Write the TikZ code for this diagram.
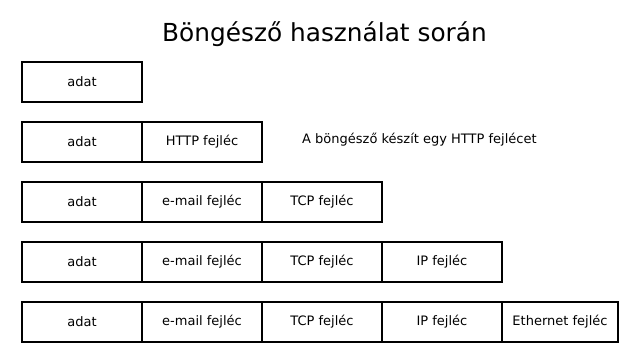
\documentclass[tikz,border=0pt]{standalone}
\usepackage{fontspec}
\setmainfont{DejaVu Sans}
\usetikzlibrary{positioning}
\tikzset{
  field/.style={draw, line width=1.5pt, minimum width=120pt, minimum height=40pt,
    inner sep=0pt, outer sep=0pt, font=\fontsize{13}{15}\selectfont},
}
\begin{document}
\begin{tikzpicture}[x=1pt,y=-1pt]
\useasboundingbox (0,0) rectangle (643,363);
\node (title) at (324.5,34) {\fontsize{24.8}{28}\selectfont Böngésző használat során};
% one row per layer, headers stacked to the right
\node[field,anchor=north west] (data1) at (22,62) {adat};
\node[field,anchor=north west] (data2) at (22,122) {adat};
\node[field,right=0pt of data2] (http2) {HTTP fejléc};
\node[anchor=west,inner sep=0pt,font=\fontsize{13}{15}\selectfont] (note) at (302,139.5) {A böngésző készít egy HTTP fejlécet};
\node[field,anchor=north west] (data3) at (22,182) {adat};
\node[field,right=0pt of data3] (mail3) {e-mail fejléc};
\node[field,right=0pt of mail3] (tcp3) {TCP fejléc};
\node[field,anchor=north west] (data4) at (22,242) {adat};
\node[field,right=0pt of data4] (mail4) {e-mail fejléc};
\node[field,right=0pt of mail4] (tcp4) {TCP fejléc};
\node[field,right=0pt of tcp4] (ip4) {IP fejléc};
\node[field,anchor=north west] (data5) at (22,302) {adat};
\node[field,right=0pt of data5] (mail5) {e-mail fejléc};
\node[field,right=0pt of mail5] (tcp5) {TCP fejléc};
\node[field,right=0pt of tcp5] (ip5) {IP fejléc};
\node[field,right=0pt of ip5,minimum width=116pt] (eth5) {Ethernet fejléc};
\end{tikzpicture}
\end{document}
